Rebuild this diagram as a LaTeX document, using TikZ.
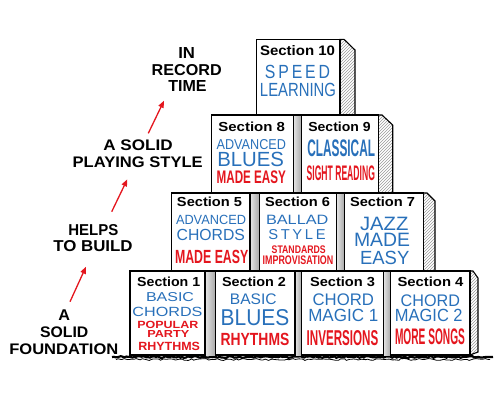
\documentclass[tikz,border=0pt]{standalone}
\usepackage{fontspec}
\setmainfont{Liberation Sans}
\usepackage{graphicx}
\usetikzlibrary{arrows.meta,patterns,decorations.pathmorphing}
\definecolor{bblue}{RGB}{40,112,186}
\definecolor{rred}{RGB}{228,22,30}
\newcommand{\tl}[7]{\node[#2] (#1) at (#3,#4) {\resizebox{#5pt}{#6pt}{#7}};}
\newcommand{\lsp}{\kern0.18em}
\tikzset{
  sec/.style={anchor=base,inner sep=0pt,font=\bfseries,text=black},
  blu/.style={anchor=base,inner sep=0pt,font=\normalfont,text=bblue},
  blub/.style={anchor=base,inner sep=0pt,font=\bfseries,text=bblue},
  rd/.style={anchor=base,inner sep=0pt,font=\bfseries,text=rred},
  lbl/.style={anchor=base,inner sep=0pt,font=\bfseries,text=black},
  blockbox/.style={draw=black,fill=white,line width=1.3pt},
  gapfill/.style={left color=gray!20,right color=gray!70},
  sideface/.style={draw=black,line width=1.1pt,pattern=north east lines,pattern color=gray!80},
  redarrow/.style={draw=rred,line width=1.3pt,-{Triangle[length=7pt,width=5.5pt]}}
}
\begin{document}
\begin{tikzpicture}[x=1pt,y=-1pt]
\useasboundingbox (0,0) rectangle (500,400);
% ground
\pgfmathsetseed{7}
\draw[line width=2.2pt,decorate,decoration={random steps,segment length=2pt,amplitude=0.8pt}] (112,357) -- (493,357);
\draw[line width=0.8pt,decorate,decoration={random steps,segment length=3pt,amplitude=1pt}] (116,359.5) -- (490,359.5);
% gaps
\shade[gapfill] (205,271) rectangle (215.7,355);
\shade[gapfill] (295,271) rectangle (301.7,355);
\shade[gapfill] (383.3,271) rectangle (390.7,355);
\shade[gapfill] (250,193) rectangle (259.3,271);
\shade[gapfill] (336.7,193) rectangle (344.3,271);
\shade[gapfill] (293.3,115) rectangle (301.7,193);
% side faces
\draw[sideface] (470,271) -- (473,271) -- (478,278) -- (478,352) -- (470,355) -- cycle;
\draw[sideface] (423.3,193) -- (427,193) -- (435,201) -- (435,271) -- (423.3,271) -- cycle;
\draw[sideface] (378.3,115) -- (382,115) -- (392.7,125) -- (392.7,193) -- (378.3,193) -- cycle;
\draw[sideface] (340,39.3) -- (344,39.3) -- (355,50) -- (355,115) -- (340,115) -- cycle;
% blocks
\draw[blockbox] (130,271) rectangle (205,355);
\draw[blockbox] (215.7,271) rectangle (295,355);
\draw[blockbox] (301.7,271) rectangle (383.3,355);
\draw[blockbox] (390.7,271) rectangle (470,355);
\draw[blockbox] (171.7,193) rectangle (250,271);
\draw[blockbox] (259.3,193) rectangle (336.7,271);
\draw[blockbox] (344.3,193) rectangle (423.3,271);
\draw[blockbox] (211.7,115) rectangle (293.3,193);
\draw[blockbox] (301.7,115) rectangle (378.3,193);
\draw[blockbox] (256.7,39.3) rectangle (340,115);
% section titles
\tl{t1}{sec}{168.7}{286}{63}{9.5}{Section 1}
\tl{t2}{sec}{254}{286}{64}{9.5}{Section 2}
\tl{t3}{sec}{342.5}{286}{65}{9.5}{Section 3}
\tl{t4}{sec}{430.5}{286.5}{66}{9.5}{Section 4}
\tl{t5}{sec}{209.5}{206.7}{65}{9.5}{Section 5}
\tl{t6}{sec}{297.5}{206.7}{65}{9.5}{Section 6}
\tl{t7}{sec}{382.5}{206.7}{65}{9.5}{Section 7}
\tl{t8}{sec}{251.7}{131}{66.7}{9.5}{Section 8}
\tl{t9}{sec}{339.5}{131}{62.4}{9.5}{Section 9}
\tl{t10}{sec}{297.5}{55}{75}{10}{Section 10}
% section 1
\tl{s1a}{blu}{170}{301.7}{48}{9}{BASIC}
\tl{s1b}{blu}{167.5}{316}{70}{9.3}{CHORDS}
\tl{s1c}{rd}{167.8}{328.3}{61}{7.3}{POPULAR}
\tl{s1d}{rd}{168.3}{337.7}{42}{7}{PARTY}
\tl{s1e}{rd}{169.2}{350}{61.7}{8.3}{RHYTHMS}
% section 2
\tl{s2a}{blu}{253.3}{304}{46.7}{10.7}{BASIC}
\tl{s2b}{blu}{255}{325}{68.7}{16}{BLUES}
\tl{s2c}{rd}{255}{345}{68.7}{12.3}{RHYTHMS}
% section 3
\tl{s3a}{blu}{343.3}{305}{61.3}{11.7}{CHORD}
\tl{s3b}{blu}{343.3}{321.7}{70}{12.3}{MAGIC 1}
\tl{s3c}{rd}{342.5}{345}{71.7}{15}{INVERSIONS}
% section 4
\tl{s4a}{blu}{430.3}{306.7}{59.3}{11.7}{CHORD}
\tl{s4b}{blu}{428.8}{321.7}{67.7}{12.3}{MAGIC 2}
\tl{s4c}{rd}{430}{344}{70}{15.7}{MORE SONGS}
% section 5
\tl{s5a}{blu}{211}{224.3}{70}{9.3}{ADVANCED}
\tl{s5b}{blu}{210.8}{240}{68.3}{11.2}{CHORDS}
\tl{s5c}{rd}{211.7}{263.3}{73.3}{13.3}{MADE EASY}
% section 6
\tl{s6a}{blu}{297.2}{224.3}{62.3}{9.3}{BALLAD}
\tl{s6b}{blu}{297}{239}{57.3}{10}{S\lsp T\lsp Y\lsp L\lsp E}
\tl{s6c}{rd}{298.7}{253.3}{54}{7.7}{STANDARDS}
\tl{s6d}{rd}{298}{264.3}{70.7}{8.7}{IMPROVISATION}
% section 7
\tl{s7a}{blu}{384.2}{230}{48.3}{13.3}{JAZZ}
\tl{s7b}{blu}{382}{246.7}{56}{13.3}{MADE}
\tl{s7c}{blu}{384.7}{264.3}{49.3}{13.3}{EASY}
% section 8
\tl{s8a}{blu}{251.3}{149.3}{69.3}{10}{ADVANCED}
\tl{s8b}{blu}{250.7}{166}{66.7}{14.3}{BLUES}
\tl{s8c}{rd}{251.3}{183.3}{69.3}{12.7}{MADE EASY}
% section 9
\tl{s9a}{blub}{341.2}{156.7}{67.7}{16.7}{CLASSICAL}
\tl{s9b}{rd}{340.8}{180.7}{68.3}{14.7}{SIGHT READING}
% section 10
\tl{s10a}{blu}{297.5}{78.3}{65}{13.3}{S\lsp P\lsp E\lsp E\lsp D}
\tl{s10b}{blu}{298}{96.7}{76}{13.3}{LEARNING}
% left labels
\tl{l1}{lbl}{186.7}{58.3}{16.7}{11}{IN}
\tl{l2}{lbl}{186.7}{75}{70}{11}{RECORD}
\tl{l3}{lbl}{187.5}{91.7}{38.3}{11}{TIME}
\tl{l4}{lbl}{138}{150.7}{69.3}{10.7}{A SOLID}
\tl{l5}{lbl}{137.7}{167.3}{130}{10.7}{PLAYING STYLE}
\tl{l6}{lbl}{93.3}{235}{50}{11}{HELPS}
\tl{l7}{lbl}{93}{251.7}{79.3}{11}{TO BUILD}
\tl{l8}{lbl}{64.2}{320.7}{11.7}{10.7}{A}
\tl{l9}{lbl}{64.2}{337.3}{48.3}{10.7}{SOLID}
\tl{l10}{lbl}{63.8}{354}{109}{10.7}{FOUNDATION}
% arrows
\coordinate (a1t) at (70,301.7);
\coordinate (a1h) at (86,266.7);
\coordinate (a2t) at (111.7,211.7);
\coordinate (a2h) at (127.3,179.3);
\coordinate (a3t) at (148.3,133.3);
\coordinate (a3h) at (164,100.7);
\draw[redarrow] (a1t) -- (a1h);
\draw[redarrow] (a2t) -- (a2h);
\draw[redarrow] (a3t) -- (a3h);
\end{tikzpicture}
\end{document}
